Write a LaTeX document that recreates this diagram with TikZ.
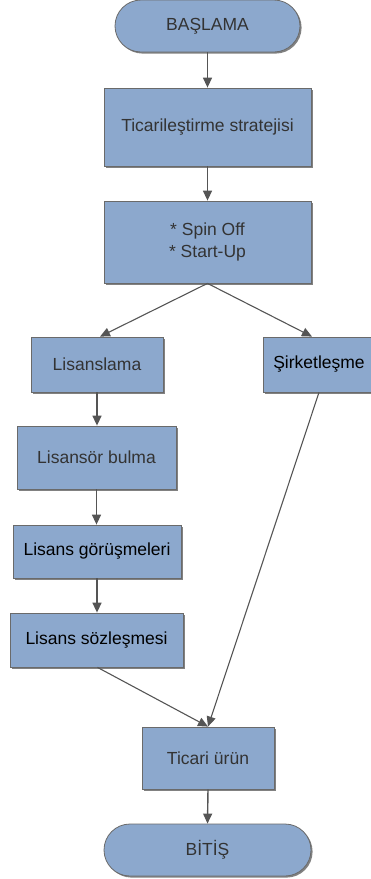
\documentclass[tikz,border=0pt]{standalone}
\usepackage{fontspec}
\setmainfont{Liberation Sans}
\usetikzlibrary{arrows.meta,shadows}
\definecolor{boxfill}{HTML}{8CA8CD}
\definecolor{boxline}{HTML}{6A6A6A}
\definecolor{txtgrey}{HTML}{333333}
\definecolor{arrowc}{HTML}{555555}
\begin{document}
\begin{tikzpicture}[x=1pt,y=-1pt,
  box/.style={draw=boxline,line width=0.8pt,fill=boxfill,inner sep=0pt,align=center,
    font=\fontsize{17.5}{22}\selectfont,text=txtgrey,
    drop shadow={shadow xshift=1.6pt,shadow yshift=-1.6pt,opacity=0.7,fill=black!70}},
  term/.style={box,rounded corners=26pt},
  arr/.style={draw=arrowc,line width=1.4pt,-{Triangle[length=10pt,width=9pt]}},
  thin/.style={draw=arrowc,line width=1.1pt,-{Triangle[length=10pt,width=9pt]}}]
\useasboundingbox (0,0) rectangle (371,879);
\node[term,minimum width=185pt,minimum height=52pt] (start) at (207.5,26) {BAŞLAMA};
\node[box,minimum width=207pt,minimum height=78pt] (strat) at (207.5,127) {Ticarileştirme stratejisi};
\node[box,minimum width=207pt,minimum height=82pt] (spin) at (207.5,242) {* Spin Off\\* Start-Up};
\node[box,minimum width=132pt,minimum height=55pt] (lis) at (97,364.5) {Lisanslama};
\node[box,minimum width=112pt,minimum height=55pt,text=black] (sirk) at (319,364.5) {Şirketleşme};
\node[box,minimum width=159pt,minimum height=63pt] (bul) at (96.5,457.5) {Lisansör bulma};
\node[box,minimum width=168pt,minimum height=53pt,text=black] (gor) at (97,551.5) {Lisans görüşmeleri};
\node[box,minimum width=173pt,minimum height=54pt,text=black] (soz) at (96.5,640) {Lisans sözleşmesi};
\node[box,minimum width=132pt,minimum height=62pt] (urun) at (208,758) {Ticari ürün};
\node[term,minimum width=207pt,minimum height=52pt] (bitis) at (207.5,850) {BİTİŞ};
\draw[arr] (start.south) -- (strat.north);
\draw[arr] (strat.south) -- (spin.north);
\draw[thin] (spin.south) -- ([xshift=3pt]lis.north);
\draw[thin] (spin.south) -- ([xshift=-7pt]sirk.north);
\draw[arr] (lis.south) -- (lis.south |- bul.north);
\draw[arr] (bul.south) -- (bul.south |- gor.north);
\draw[arr] (gor.south) -- (gor.south |- soz.north);
\draw[thin] ([xshift=1pt]soz.south) -- (urun.north);
\draw[thin] (sirk.south) -- (urun.north);
\draw[arr] (urun.south) -- (bitis.north);
\end{tikzpicture}
\end{document}
